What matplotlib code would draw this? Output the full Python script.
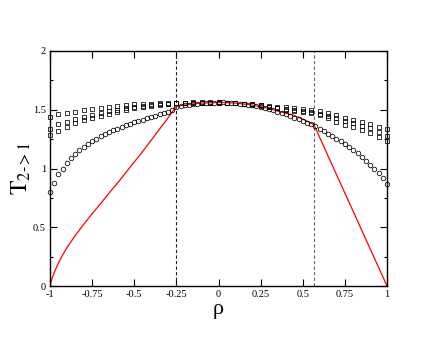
import numpy as np
import matplotlib
matplotlib.use("Agg")
import matplotlib.pyplot as plt
from matplotlib.ticker import MultipleLocator, FixedFormatter, FixedLocator

plt.rcParams['font.family'] = 'Liberation Serif'
plt.rcParams['mathtext.fontset'] = 'stix'
plt.rcParams['axes.unicode_minus'] = False

# circles: rho step 0.025
rho_c = np.round(np.arange(-1.0, 1.0001, 0.025), 3)
t_c = [0.80, 0.88, 0.95, 1.00, 1.05, 1.09, 1.126, 1.157, 1.186, 1.208,
       1.231, 1.254, 1.274, 1.291, 1.308, 1.325, 1.339, 1.353, 1.368, 1.381,
       1.393, 1.404, 1.415, 1.427, 1.438, 1.449, 1.461, 1.472, 1.483, 1.50,
       1.52, 1.532, 1.538, 1.543, 1.548, 1.552, 1.555, 1.558, 1.56, 1.561,
       1.562, 1.562, 1.561, 1.559, 1.556, 1.553, 1.549, 1.544, 1.538, 1.531,
       1.523, 1.515, 1.506, 1.496, 1.485, 1.473, 1.46, 1.447, 1.433, 1.418,
       1.403, 1.388, 1.375, 1.36, 1.34, 1.318, 1.297, 1.275, 1.252, 1.23,
       1.207, 1.183, 1.157, 1.129, 1.099, 1.067, 1.032, 0.996, 0.958, 0.918,
       0.871]

# squares: rho step 0.05, three series
rho_s = np.round(np.arange(-1.0, 1.0001, 0.05), 3)
t_s1 = [1.441, 1.461, 1.475, 1.484, 1.495, 1.506, 1.515, 1.525, 1.532, 1.538,
        1.545, 1.55, 1.553, 1.556, 1.558, 1.56, 1.561, 1.562, 1.563, 1.563,
        1.563, 1.561, 1.558, 1.553, 1.548, 1.542, 1.535, 1.527, 1.52, 1.513,
        1.506, 1.499, 1.489, 1.472, 1.452, 1.433, 1.416, 1.398, 1.378, 1.357,
        1.336]
t_s2 = [1.339, 1.376, 1.399, 1.424, 1.441, 1.458, 1.475, 1.49, 1.50, 1.515,
        1.526, 1.535, 1.541, 1.547, 1.552, 1.556, 1.558, 1.56, 1.561, 1.561,
        1.561, 1.559, 1.556, 1.551, 1.545, 1.538, 1.527, 1.515, 1.505, 1.496,
        1.489, 1.481, 1.468, 1.449, 1.427, 1.405, 1.385, 1.365, 1.342, 1.312,
        1.277]
t_s3 = [1.285, 1.319, 1.356, 1.384, 1.41, 1.433, 1.45, 1.468, 1.485, 1.50,
        1.515, 1.526, 1.535, 1.543, 1.549, 1.555, 1.557, 1.559, 1.56, 1.56,
        1.56, 1.558, 1.555, 1.55, 1.544, 1.536, 1.525, 1.512, 1.502, 1.493,
        1.485, 1.474, 1.452, 1.428, 1.4, 1.372, 1.349, 1.329, 1.305, 1.27,
        1.234]

# red curve
rho_r = [-1.0, -0.99, -0.975, -0.95, -0.925, -0.9, -0.85, -0.8, -0.75, -0.7,
         -0.65, -0.6, -0.55, -0.5, -0.45, -0.4, -0.35, -0.3, -0.25, -0.2,
         -0.15, -0.1, -0.05, 0.0, 0.05, 0.1, 0.15, 0.2, 0.25, 0.3,
         0.35, 0.4, 0.45, 0.5, 0.55, 0.567, 1.0]
t_r = [0.0, 0.055, 0.115, 0.195, 0.265, 0.325, 0.43, 0.525, 0.615, 0.70,
       0.79, 0.875, 0.965, 1.055, 1.145, 1.24, 1.335, 1.43, 1.53, 1.54,
       1.55, 1.556, 1.56, 1.562, 1.561, 1.556, 1.549, 1.54, 1.526, 1.51,
       1.49, 1.47, 1.45, 1.42, 1.385, 1.37, 0.0]

rho_dash = [-0.25, 0.567]

fig = plt.figure(figsize=(4.36, 3.37), dpi=100)
ax = fig.add_axes([50 / 436, 51 / 337, 337 / 436, 235 / 337])

for x, c in zip(rho_dash, ['#222222', '#666666']):
    ax.axvline(x, color=c, lw=0.8, ls=(0, (3, 2)))

ax.plot(rho_r, t_r, color='red', lw=0.9)
for ts in (t_s1, t_s2, t_s3):
    ax.plot(rho_s, ts, ls='none', marker='s', ms=3.0, mfc='none', mec='black',
            mew=0.55, clip_on=False)
ax.plot(rho_c, t_c, ls='none', marker='o', ms=3.3, mfc='none', mec='black',
        mew=0.55, clip_on=False)

ax.set_xlim(-1, 1)
ax.set_ylim(0, 2)
xt = [-1, -0.75, -0.5, -0.25, 0, 0.25, 0.5, 0.75, 1]
ax.xaxis.set_major_locator(FixedLocator(xt))
ax.xaxis.set_major_formatter(FixedFormatter(['-1', '-0.75', '-0.5', '-0.25', '0',
                                             '0.25', '0.5', '0.75', '1']))
ax.yaxis.set_major_locator(FixedLocator([0, 0.5, 1, 1.5, 2]))
ax.yaxis.set_major_formatter(FixedFormatter(['0', '0.5', '1', '1.5', '2']))
ax.yaxis.set_minor_locator(MultipleLocator(0.25))
ax.tick_params(which='both', direction='in', top=True, right=True,
               labelsize=7.5, width=0.8, pad=3)
ax.tick_params(which='major', length=5)
ax.tick_params(which='minor', length=2.5)
for s in ax.spines.values():
    s.set_linewidth(1.0)

ax.set_xlabel('ρ', fontsize=16, labelpad=0.5)
ax.set_ylabel(r'$\mathrm{T}_{\mathrm{2\text{-}>1}}$', fontsize=17, labelpad=0)

fig.savefig('out.png', dpi=100)
